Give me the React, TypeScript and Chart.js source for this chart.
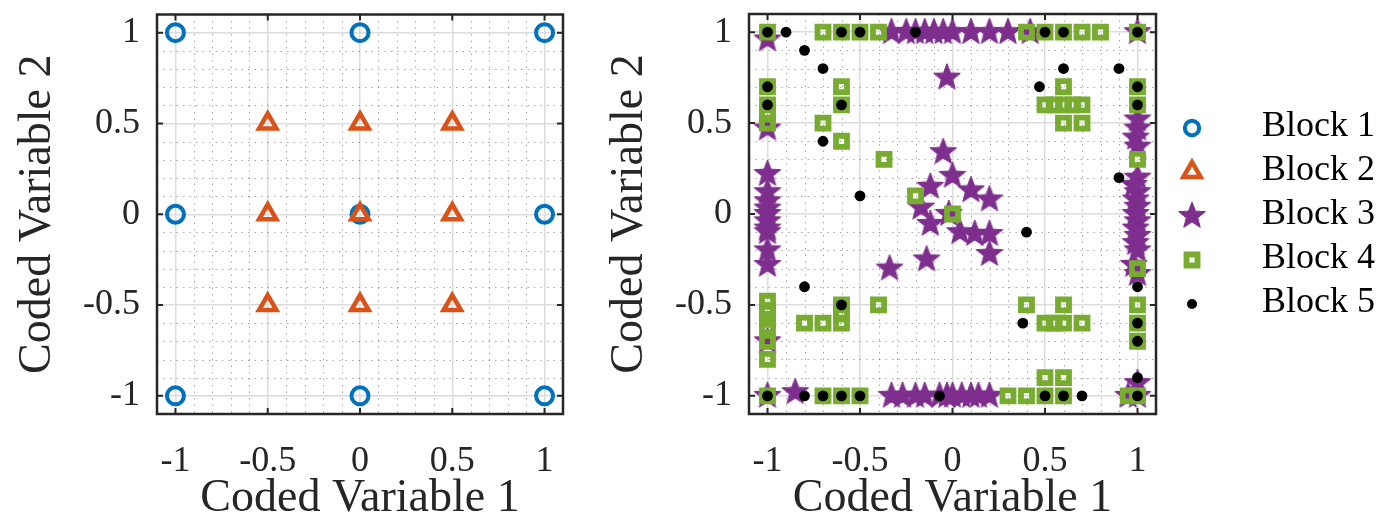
import React, { useEffect, useRef } from 'react';
import { Chart, registerables } from 'chart.js';

Chart.register(...registerables);

// ---------- text & ticks ----------
const FONT = '"Liberation Serif", "Times New Roman", serif';
const AXIS_MIN = -1.1;
const AXIS_MAX = 1.1;
const TICK_VALUES = [-1, -0.5, 0, 0.5, 1];
const TICK_LABELS = ['-1', '-0.5', '0', '0.5', '1'];
const MINOR_VALUES = [-0.9, -0.8, -0.7, -0.6, -0.4, -0.3, -0.2, -0.1, 0.1, 0.2, 0.3, 0.4, 0.6, 0.7, 0.8, 0.9];
const X_TITLE = 'Coded Variable 1';
const Y_TITLE = 'Coded Variable 2';
const LEGEND_LABELS = ['Block 1', 'Block 2', 'Block 3', 'Block 4', 'Block 5'];

// ---------- data (coded variable 1, coded variable 2) ----------
const BLOCK1: number[][] = [
  [-1, 1], [0, 1], [1, 1],
  [-1, 0], [0, 0], [1, 0],
  [-1, -1], [0, -1], [1, -1],
];
const BLOCK2: number[][] = [
  [-0.5, 0.5], [0, 0.5], [0.5, 0.5],
  [-0.5, 0], [0, 0], [0.5, 0],
  [-0.5, -0.5], [0, -0.5], [0.5, -0.5],
];
const BLOCK3: number[][] = [
  // top edge
  [-1, 0.96], [-0.33, 1], [-0.25, 1], [-0.2, 1], [-0.15, 1], [-0.1, 1], [-0.05, 1], [0, 1], [0.1, 1], [0.2, 1], [0.3, 1], [0.42, 1], [1, 1],
  // left edge
  [-1, 0.47], [-1, 0.22], [-1, 0.12], [-1, 0.07], [-1, 0.03], [-1, 0], [-1, -0.04], [-1, -0.08], [-1, -0.1], [-1, -0.2], [-1, -0.28], [-1, -0.7],
  // interior
  [-0.03, 0.75], [-0.05, 0.34], [0, 0.21], [-0.12, 0.15], [0.1, 0.13], [0.2, 0.08], [-0.17, 0.035], [-0.02, 0],
  [-0.12, -0.055], [0.04, -0.1], [0.12, -0.11], [0.2, -0.11], [0.2, -0.22], [-0.14, -0.25], [-0.34, -0.3],
  // right edge
  [1, 0.52], [1, 0.47], [0.99, 0.42], [1, 0.37], [1, 0.2], [0.98, 0.16], [1, 0.12], [0.99, 0.08], [1, 0.04], [0.99, 0],
  [1, -0.04], [0.99, -0.08], [1, -0.12], [0.99, -0.16], [1, -0.2], [0.98, -0.28], [1, -0.33], [1, -0.93],
  // bottom edge
  [-1, -1], [-0.85, -0.98], [-0.33, -1], [-0.27, -1], [-0.2, -1], [-0.15, -1], [-0.07, -1], [-0.03, -1], [0, -1],
  [0.05, -1], [0.1, -1], [0.14, -1], [0.2, -1], [0.95, -1], [1, -1],
];
const BLOCK4: number[][] = [
  [-1, 1], [-0.7, 1], [-0.6, 1], [-0.5, 1], [-0.4, 1], [0.4, 1], [0.5, 1], [0.6, 1], [0.7, 1], [0.8, 1], [1, 1],
  [-1, 0.7], [-0.6, 0.7], [-1, 0.6], [-0.6, 0.6], [-1, 0.55], [-1, 0.5], [-0.7, 0.5], [-0.6, 0.4], [-0.37, 0.3], [-0.2, 0.1], [0, 0],
  [0.6, 0.7], [1, 0.7], [0.5, 0.6], [0.55, 0.6], [0.6, 0.6], [0.65, 0.6], [0.7, 0.6], [1, 0.6], [0.6, 0.5], [0.7, 0.5],
  [1, 0.3], [1, -0.3],
  [-1, -0.48], [-1, -0.53], [-1, -0.58], [-1, -0.62], [-1, -0.7], [-1, -0.8], [-0.8, -0.6], [-0.7, -0.6],
  [-0.6, -0.5], [-0.6, -0.55], [-0.6, -0.6], [-0.4, -0.5],
  [0.4, -0.5], [0.6, -0.5], [1, -0.5], [0.5, -0.6], [0.55, -0.6], [0.6, -0.6], [0.7, -0.6], [1, -0.6], [1, -0.7],
  [0.5, -0.9], [0.6, -0.9],
  [-1, -1], [-0.7, -1], [-0.6, -1], [-0.5, -1], [0.3, -1], [0.4, -1], [0.5, -1], [0.6, -1], [0.95, -1], [1, -1],
];
const BLOCK5: number[][] = [
  [-1, 1], [-0.9, 1], [-0.6, 1], [-0.5, 1], [-0.2, 1], [0.5, 1], [0.6, 1], [1, 1],
  [-0.8, 0.9], [-0.7, 0.8], [0.6, 0.8], [0.9, 0.8],
  [-1, 0.7], [-1, 0.6], [-0.6, 0.6], [-0.7, 0.4], [0.47, 0.7], [1, 0.7], [1, 0.6],
  [-0.5, 0.1], [0.9, 0.2], [0.4, -0.1],
  [-0.8, -0.4], [-0.6, -0.5], [1, -0.4], [0.38, -0.6], [1, -0.6], [1, -0.7], [1, -0.9],
  [-1, -1], [-0.8, -1], [-0.7, -1], [-0.6, -1], [-0.5, -1], [-0.07, -1], [0.5, -1], [0.6, -1], [0.7, -1], [1, -1],
];

// ---------- styles ----------
const BLUE = '#0072BD';
const ORANGE = '#D95319';
const PURPLE = '#7E2F8E';
const GREEN = '#77AC30';
const TEXT = '#262626';

const CANVAS_H = 522;
const LEFT_W = 592;
const RIGHT_W = 786;

function makeStar(color: string, R: number, r: number) {
  const c = document.createElement('canvas');
  const size = Math.ceil(2 * R + 4);
  c.width = size;
  c.height = size;
  const g = c.getContext('2d')!;
  g.translate(size / 2, size / 2);
  g.beginPath();
  for (let k = 0; k < 10; k++) {
    const rad = k % 2 === 0 ? R : r;
    const ang = -Math.PI / 2 + (k * Math.PI) / 5;
    g.lineTo(rad * Math.cos(ang), rad * Math.sin(ang));
  }
  g.closePath();
  g.fillStyle = color;
  g.fill();
  g.lineWidth = 1;
  g.strokeStyle = color;
  g.stroke();
  return c;
}

function toXY(arr: number[][]) {
  return arr.map(([x, y]) => ({ x, y }));
}

function makeDataset(block: number, star: HTMLCanvasElement, withData: boolean) {
  const src = [BLOCK1, BLOCK2, BLOCK3, BLOCK4, BLOCK5][block];
  const base: any = {
    label: LEGEND_LABELS[block],
    data: withData ? toXY(src) : [],
    showLine: false,
    order: 10 - block,
  };
  if (block === 0) {
    Object.assign(base, { pointStyle: 'circle', pointRadius: 8.5, pointBorderWidth: 4, pointBorderColor: BLUE, pointBackgroundColor: 'rgba(0,0,0,0)' });
  } else if (block === 1) {
    Object.assign(base, { pointStyle: 'triangle', pointRadius: 10, pointBorderWidth: 4.5, pointBorderColor: ORANGE, pointBackgroundColor: 'rgba(0,0,0,0)' });
  } else if (block === 2) {
    Object.assign(base, { pointStyle: star, pointRadius: 14, pointBorderWidth: 0, pointBorderColor: PURPLE, pointBackgroundColor: PURPLE });
  } else if (block === 3) {
    Object.assign(base, { pointStyle: 'rect', pointRadius: 7.8, pointBorderWidth: 5.8, pointBorderColor: GREEN, pointBackgroundColor: 'rgba(0,0,0,0)' });
  } else {
    Object.assign(base, { pointStyle: 'circle', pointRadius: 5.4, pointBorderWidth: 0, pointBorderColor: '#000', pointBackgroundColor: '#000' });
  }
  base.pointHoverRadius = base.pointRadius;
  base.pointHoverBorderWidth = base.pointBorderWidth;
  return base;
}

function axis(kind: 'x' | 'y') {
  return {
    type: 'linear',
    position: kind === 'x' ? 'bottom' : 'left',
    min: AXIS_MIN,
    max: AXIS_MAX,
    bounds: 'data',
    afterBuildTicks: (s: any) => {
      s.ticks = TICK_VALUES.map((v) => ({ value: v }));
    },
    afterFit: (s: any) => {
      if (kind === 'x') s.height = 108;
      else s.width = 157;
      s.paddingTop = 0;
      s.paddingBottom = 0;
      s.paddingLeft = 0;
      s.paddingRight = 0;
    },
    ticks: {
      autoSkip: false,
      maxRotation: 0,
      minRotation: 0,
      padding: kind === 'x' ? 26 : 17,
      color: TEXT,
      font: { family: FONT, size: 36 },
      callback: (v: number) => {
        const i = TICK_VALUES.findIndex((t) => Math.abs(t - v) < 1e-9);
        return i >= 0 ? TICK_LABELS[i] : '';
      },
    },
    grid: { color: '#dcdcdc', lineWidth: 1.5, drawTicks: false },
    border: { display: false },
    title: {
      display: true,
      text: kind === 'x' ? X_TITLE : Y_TITLE,
      color: TEXT,
      font: { family: FONT, size: 46, lineHeight: 1 },
      padding: kind === 'x' ? { top: 0, bottom: 0 } : { top: 15, bottom: 0 },
    },
  };
}

const framePlugin = {
  id: 'matlabFrame',
  beforeDatasetsDraw(chart: any) {
    const { ctx, chartArea: a, scales } = chart;
    const x = scales.x;
    const y = scales.y;
    ctx.save();
    ctx.beginPath();
    ctx.rect(a.left, a.top, a.right - a.left, a.bottom - a.top);
    ctx.clip();
    ctx.strokeStyle = 'rgba(38,38,38,0.4)';
    ctx.lineWidth = 1;
    ctx.setLineDash([1.5, 5]);
    for (const v of MINOR_VALUES) {
      const px = Math.round(x.getPixelForValue(v)) + 0.5;
      ctx.beginPath();
      ctx.moveTo(px, a.top);
      ctx.lineTo(px, a.bottom);
      ctx.stroke();
      const py = Math.round(y.getPixelForValue(v)) + 0.5;
      ctx.beginPath();
      ctx.moveTo(a.left, py);
      ctx.lineTo(a.right, py);
      ctx.stroke();
    }
    ctx.restore();
  },
  afterDatasetsDraw(chart: any) {
    const { ctx, chartArea: a, scales } = chart;
    const x = scales.x;
    const y = scales.y;
    ctx.save();
    ctx.strokeStyle = TEXT;
    ctx.lineWidth = 2;
    ctx.setLineDash([]);
    const TL = 6;
    for (const v of TICK_VALUES) {
      const px = x.getPixelForValue(v);
      const py = y.getPixelForValue(v);
      ctx.beginPath();
      ctx.moveTo(px, a.top); ctx.lineTo(px, a.top + TL);
      ctx.moveTo(px, a.bottom); ctx.lineTo(px, a.bottom - TL);
      ctx.moveTo(a.left, py); ctx.lineTo(a.left + TL, py);
      ctx.moveTo(a.right, py); ctx.lineTo(a.right - TL, py);
      ctx.stroke();
    }
    ctx.lineWidth = 2.5;
    ctx.strokeRect(a.left, a.top, a.right - a.left, a.bottom - a.top);
    ctx.restore();
  },
};

const LEGEND_MARKER_X = 600;
const LEGEND_TEXT_X = 670;
const LEGEND_TOP = 128;
const LEGEND_STEP = 44;

function drawLegendMarker(ctx: CanvasRenderingContext2D, ds: any, cx: number, cy: number) {
  const style = ds.pointStyle;
  ctx.save();
  ctx.strokeStyle = ds.pointBorderColor;
  ctx.fillStyle = ds.pointBackgroundColor;
  ctx.lineWidth = ds.pointBorderWidth;
  if (typeof style !== 'string') {
    ctx.drawImage(style, cx - style.width / 2, cy - style.height / 2);
  } else if (style === 'circle') {
    const r = ds.pointBorderWidth > 0 ? 7.2 : 5;
    ctx.beginPath();
    ctx.arc(cx, cy, r, 0, Math.PI * 2);
    ctx.fill();
    if (ds.pointBorderWidth > 0) ctx.stroke();
  } else if (style === 'triangle') {
    const r = ds.pointRadius;
    ctx.beginPath();
    for (let k = 0; k < 3; k++) {
      const ang = (k * 2 * Math.PI) / 3;
      ctx.lineTo(cx + Math.sin(ang) * r, cy - Math.cos(ang) * r);
    }
    ctx.closePath();
    ctx.fill();
    ctx.stroke();
  } else if (style === 'rect') {
    const h = ds.pointRadius * Math.SQRT1_2;
    ctx.beginPath();
    ctx.rect(cx - h, cy - h, 2 * h, 2 * h);
    ctx.fill();
    ctx.stroke();
  }
  ctx.restore();
}

const legendPlugin = {
  id: 'blockLegend',
  afterDraw(chart: any) {
    const ctx: CanvasRenderingContext2D = chart.ctx;
    chart.data.datasets.forEach((ds: any, i: number) => {
      const y = LEGEND_TOP + i * LEGEND_STEP;
      drawLegendMarker(ctx, ds, LEGEND_MARKER_X, y);
      ctx.save();
      ctx.fillStyle = '#000';
      ctx.font = `36px ${FONT}`;
      ctx.textAlign = 'left';
      ctx.textBaseline = 'middle';
      ctx.fillText(ds.label, LEGEND_TEXT_X, y - 1.5);
      ctx.restore();
    });
  },
};

function baseOptions(rightPad: number) {
  return {
    responsive: false,
    animation: false,
    events: [],
    layout: { padding: { left: 0, top: 8, right: rightPad, bottom: 0 } },
    plugins: { legend: { display: false }, tooltip: { enabled: false } },
    scales: { x: axis('x'), y: axis('y') },
  };
}

export default function App() {
  const leftRef = useRef<HTMLCanvasElement>(null);
  const rightRef = useRef<HTMLCanvasElement>(null);

  useEffect(() => {
    const star = makeStar(PURPLE, 14, 6);
    const left = new Chart(leftRef.current!, {
      type: 'scatter',
      data: { datasets: [makeDataset(0, star, true), makeDataset(1, star, true)] },
      options: baseOptions(LEFT_W - 563) as any,
      plugins: [framePlugin],
    } as any);
    const right = new Chart(rightRef.current!, {
      type: 'scatter',
      data: {
        datasets: [
          makeDataset(0, star, false),
          makeDataset(1, star, false),
          makeDataset(2, star, true),
          makeDataset(3, star, true),
          makeDataset(4, star, true),
        ],
      },
      options: baseOptions(RIGHT_W - 564) as any,
      plugins: [framePlugin, legendPlugin],
    } as any);
    return () => {
      left.destroy();
      right.destroy();
    };
  }, []);

  return (
    <div style={{ position: 'fixed', left: 0, top: 0, width: 1378, height: CANVAS_H, background: '#fff' }}>
      <canvas ref={leftRef} width={LEFT_W} height={CANVAS_H} style={{ position: 'absolute', left: 0, top: 0 }} />
      <canvas ref={rightRef} width={RIGHT_W} height={CANVAS_H} style={{ position: 'absolute', left: LEFT_W, top: 0 }} />
    </div>
  );
}
